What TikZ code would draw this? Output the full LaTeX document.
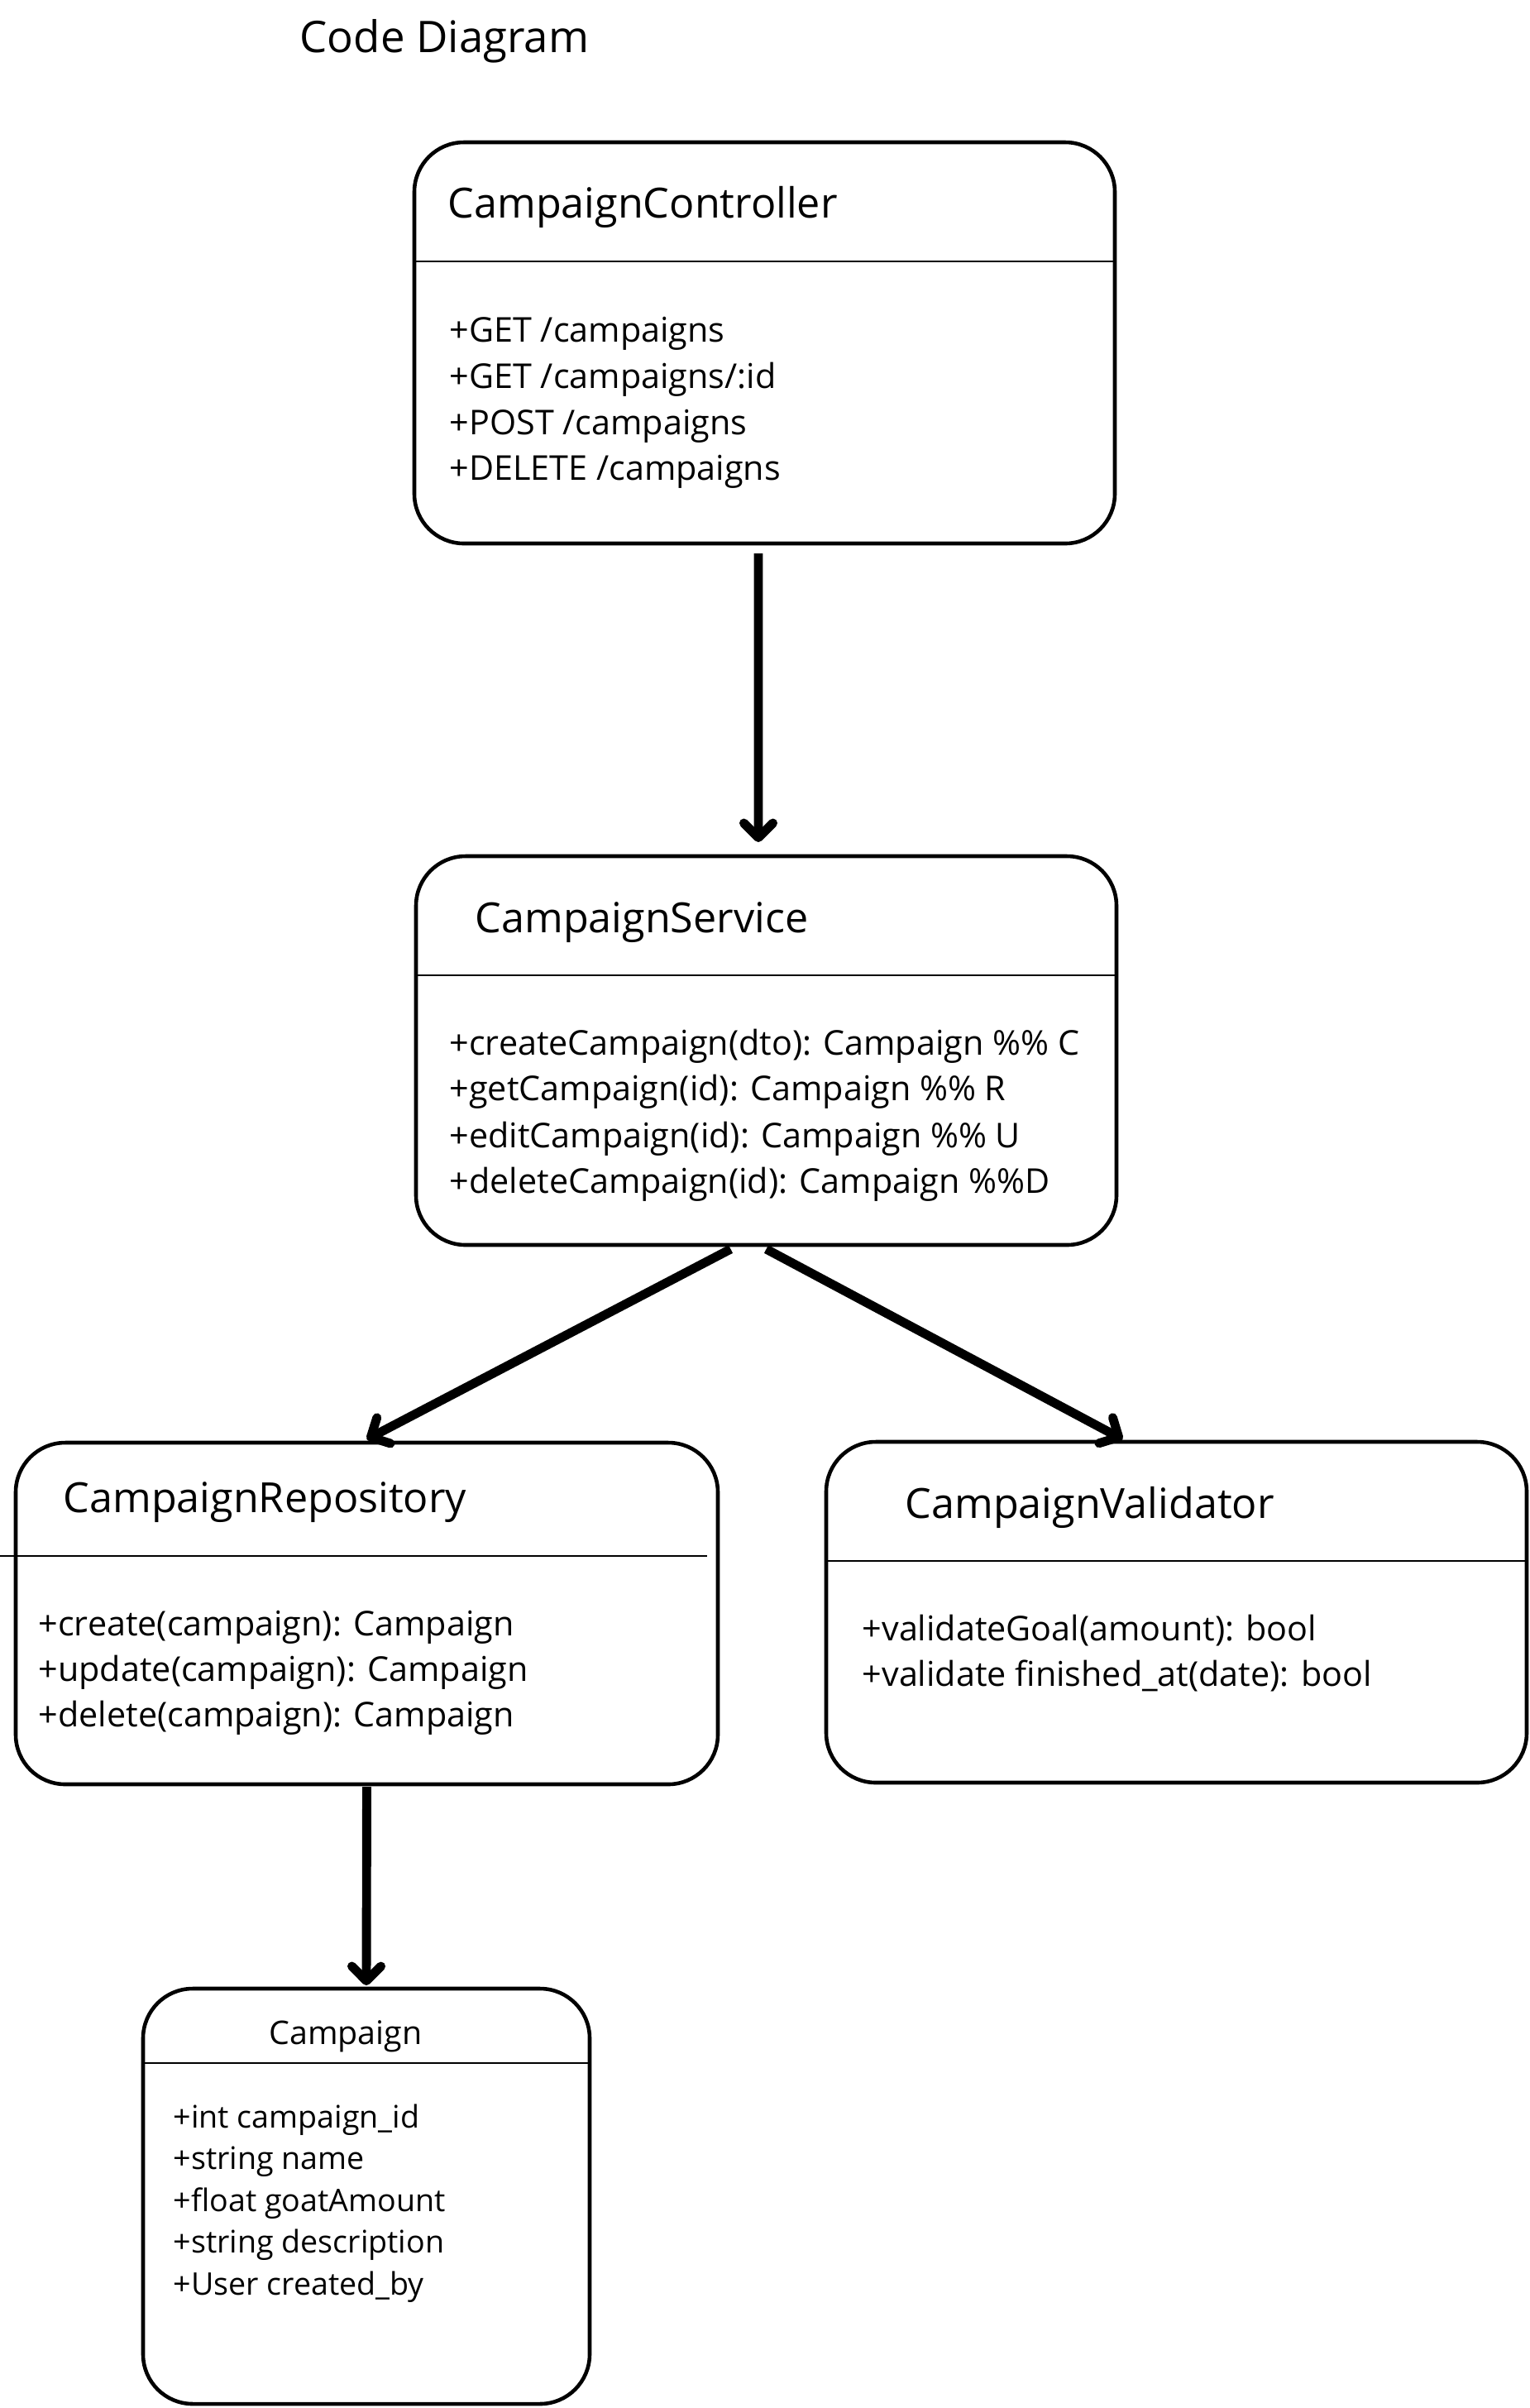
\documentclass[tikz,border=0pt]{standalone}
\usepackage{fontspec}
\setmainfont{Open Sans}
\usetikzlibrary{arrows.meta}

\begin{document}
\begin{tikzpicture}[
    cls/.style={draw, rounded corners=0.6cm, line width=1.3pt, anchor=north west, inner sep=0pt, outer sep=0pt},
    sep/.style={line width=0.7pt},
    title/.style={anchor=base west, inner sep=0pt, font=\fontsize{15}{18}\selectfont},
    hd/.style={anchor=base west, inner sep=0pt, font=\fontsize{14.3}{17}\selectfont},
    op/.style={anchor=base west, inner sep=0pt, font=\fontsize{11.75}{14}\selectfont},
    attr/.style={anchor=base west, inner sep=0pt, font=\fontsize{10.7}{13}\selectfont},
    link/.style={-{Straight Barb[length=5pt, width=10pt, round]}, line width=3.1pt}
]
\useasboundingbox (0,0) rectangle (18.5,-29.11);

\node[title] (diag) at (3.62,-0.63) {Code Diagram};

% CampaignController
\node[cls, minimum width=8.47cm, minimum height=4.85cm] (ctrl) at (5.01,-1.72) {};
\draw[sep] (5.01,-3.16) -- (13.48,-3.16);
\node[hd] (ctrlname) at (5.41,-2.63) {CampaignController};
\node[op] (ctrlget) at (5.43,-4.13) {+GET /campaigns};
\node[op] (ctrlgetid) at (5.43,-4.69) {+GET /campaigns/:id};
\node[op] (ctrlpost) at (5.43,-5.25) {+POST /campaigns};
\node[op] (ctrldel) at (5.43,-5.80) {+DELETE /campaigns};

% CampaignService
\node[cls, minimum width=8.47cm, minimum height=4.70cm] (svc) at (5.03,-10.35) {};
\draw[sep] (5.03,-11.79) -- (13.50,-11.79);
\node[hd] (svcname) at (5.74,-11.27) {CampaignService};
\node[op] (svccreate) at (5.43,-12.75) {+createCampaign(dto): Campaign \%\% C};
\node[op] (svcget) at (5.43,-13.30) {+getCampaign(id): Campaign \%\% R};
\node[op] (svcedit) at (5.43,-13.87) {+editCampaign(id): Campaign \%\% U};
\node[op] (svcdel) at (5.43,-14.42) {+deleteCampaign(id): Campaign \%\%D};

% CampaignRepository
\node[cls, minimum width=8.49cm, minimum height=4.13cm] (repo) at (0.19,-17.44) {};
\draw[sep] (0,-18.81) -- (8.55,-18.81);
\node[hd] (reponame) at (0.76,-18.28) {CampaignRepository};
\node[op] (repocreate) at (0.46,-19.77) {+create(campaign): Campaign};
\node[op] (repoupdate) at (0.46,-20.32) {+update(campaign): Campaign};
\node[op] (repodel) at (0.46,-20.87) {+delete(campaign): Campaign};

% CampaignValidator
\node[cls, minimum width=8.47cm, minimum height=4.12cm] (valid) at (9.99,-17.43) {};
\draw[sep] (9.99,-18.87) -- (18.46,-18.87);
\node[hd] (validname) at (10.94,-18.35) {CampaignValidator};
\node[op] (validgoal) at (10.42,-19.83) {+validateGoal(amount): bool};
\node[op] (validdate) at (10.42,-20.38) {+validate finished\_at(date): bool};

% Campaign
\node[cls, minimum width=5.40cm, minimum height=5.02cm] (camp) at (1.73,-24.04) {};
\draw[sep] (1.73,-24.94) -- (7.13,-24.94);
\node[anchor=base, inner sep=0pt, font=\fontsize{11.2}{13}\selectfont] (campname) at (4.18,-24.71) {Campaign};
\node[attr] (campid) at (2.09,-25.72) {+int campaign\_id};
\node[attr] (campnm) at (2.09,-26.22) {+string name};
\node[attr] (campgoal) at (2.09,-26.73) {+float goatAmount};
\node[attr] (campdesc) at (2.09,-27.23) {+string description};
\node[attr] (campuser) at (2.09,-27.74) {+User created\_by};

% Verbindungen
\draw[link] ([xshift=-0.075cm,yshift=-0.12cm]ctrl.south) -- ([xshift=-0.095cm,yshift=0.17cm]svc.north);
\draw[link] ([xshift=-0.43cm,yshift=-0.05cm]svc.south) -- ([yshift=0.04cm]repo.north);
\draw[link] ([yshift=-0.05cm]svc.south) -- ([xshift=-0.65cm,yshift=0.03cm]valid.north);
\draw[link] ([yshift=-0.03cm]repo.south) -- ([yshift=0.04cm]camp.north);
\end{tikzpicture}
\end{document}
